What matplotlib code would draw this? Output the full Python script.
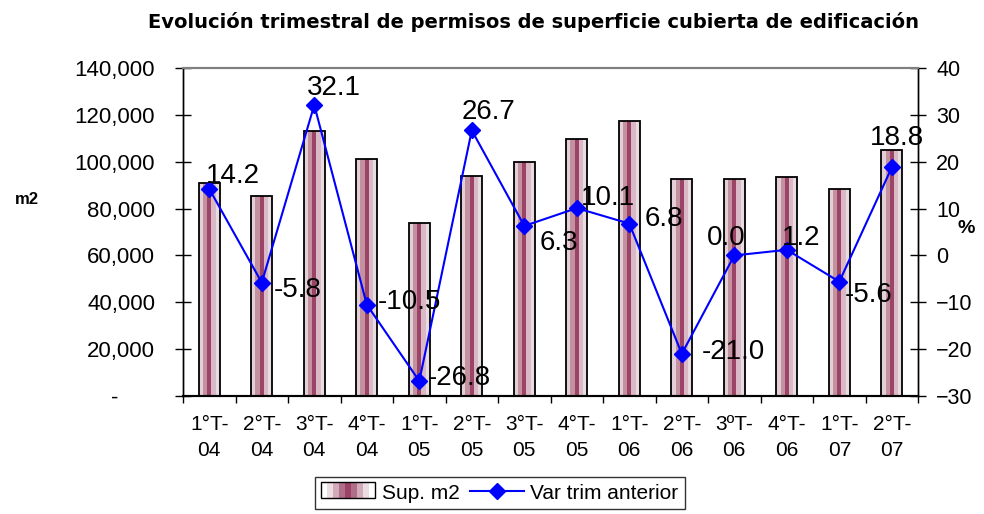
import numpy as np
import matplotlib
matplotlib.use('Agg')
import matplotlib.pyplot as plt
from matplotlib.lines import Line2D
from matplotlib.patches import Patch, Rectangle
from matplotlib.legend_handler import HandlerBase
from matplotlib.ticker import FuncFormatter

trimestres = ['1°T-\n04', '2°T-\n04', '3°T-\n04', '4°T-\n04', '1°T-\n05', '2°T-\n05', '3°T-\n05',
              '4°T-\n05', '1°T-\n06', '2°T-\n06', '3ºT-\n06', '4°T-\n06', '1°T-\n07', '2°T-\n07']
sup_m2 = [90800, 85500, 113000, 101100, 74000, 93800, 99700,
          109800, 117200, 92600, 92600, 93700, 88500, 105200]
var_trim = [14.2, -5.8, 32.1, -10.5, -26.8, 26.7, 6.3, 10.1, 6.8, -21.0, 0.0, 1.2, -5.6, 18.8]

# label offsets (pixels, label centre relative to the point)
lbl_off = [(-3, 13), (12, -7), (-7, 17), (11, 3), (8, 3), (-10, 18), (15, -17), (4, 10),
           (15, 5), (20, 2), (-27, 17), (-5, 12), (5, -13), (-22, 29)]

plt.rcParams['font.family'] = ['Liberation Sans', 'DejaVu Sans']

stripe_cols = ['#e2cfd7', '#c4929f', '#9c4468', '#d9b9c5', '#e8dbe1']


class StripeHandler(HandlerBase):
    def create_artists(self, legend, orig, xd, yd, width, height, fontsize, trans):
        cols = ['#ffffff', '#ecdde3', '#d2aab9', '#b06f88', '#9c4468', '#b06f88',
                '#d2aab9', '#ecdde3', '#ffffff']
        n = len(cols)
        arts = []
        for i, c in enumerate(cols):
            arts.append(Rectangle((xd + width * i / n, yd), width / n, height,
                                  facecolor=c, edgecolor='none', transform=trans))
        arts.append(Rectangle((xd, yd), width, height, facecolor='none',
                              edgecolor='black', linewidth=1, transform=trans))
        return arts


fig = plt.figure(figsize=(9.84, 5.14), dpi=100)
ax = fig.add_axes([0.186, 0.2296, 0.747, 0.638])
ax2 = ax.twinx()

x = np.arange(len(trimestres))
w = 0.4
for k, c in enumerate(stripe_cols):
    ax.bar(x + (-0.5 + (k + 0.5) / len(stripe_cols)) * w, sup_m2, width=w / len(stripe_cols),
           color=c, linewidth=0, zorder=2)
ax.bar(x, sup_m2, width=w, facecolor='none', edgecolor='black', linewidth=1.3, zorder=3)

ax.set_xlim(-0.5, len(trimestres) - 0.5)
ax.set_ylim(0, 140000)
ax.set_yticks(np.arange(0, 140001, 20000))
ax.yaxis.set_major_formatter(FuncFormatter(lambda v, p: '-      ' if v == 0 else f'{int(v):,}'))
ax.set_xticks(x)
ax.set_xticklabels(trimestres, fontsize=15, linespacing=1.45)
ax.set_xticks(np.arange(-0.5, len(trimestres)), minor=True)
ax.tick_params(axis='x', which='major', length=0, pad=14)
ax.tick_params(axis='x', which='minor', direction='out', length=5, width=1)
ax.tick_params(axis='y', direction='inout', length=12, width=1, labelsize=16, pad=14)
ax.set_ylabel('m2', fontsize=12, fontweight='bold', rotation=0, va='center', ha='center')
ax.yaxis.set_label_coords(-0.213, 0.598)

ax2.plot(x, var_trim, color='#0000ff', linewidth=1.5, marker='D', markersize=8, zorder=4)
ax2.set_ylim(-30, 40)
ax2.set_yticks(np.arange(-30, 41, 10))
ax2.tick_params(axis='y', direction='inout', length=12, width=1, labelsize=15.5, pad=7)
ax2.set_ylabel('%', fontsize=14, fontweight='bold', rotation=0, va='center', ha='center')
ax2.yaxis.set_label_coords(1.066, 0.512)
for xi, v, off in zip(x, var_trim, lbl_off):
    ax2.annotate(f'{v:.1f}', (xi, v), xytext=off, textcoords='offset pixels',
                 fontsize=20, ha='left', va='center', zorder=5)

for a in (ax, ax2):
    a.spines['top'].set_color('#808080')
    a.spines['top'].set_linewidth(1.5)
    a.spines['left'].set_linewidth(1)
    a.spines['right'].set_linewidth(1)
    a.spines['bottom'].set_linewidth(1.5)

fig.text(0.542, 0.957, 'Evolución trimestral de permisos de superficie cubierta de edificación',
         ha='center', va='center', fontsize=14, fontweight='bold', family='DejaVu Sans')

handles = [Patch(facecolor='#c4929f'),
           Line2D([0], [0], color='#0000ff', linewidth=1.5, marker='D', markersize=8)]
fig.legend(handles, ['Sup. m2', 'Var trim anterior'], loc='center', bbox_to_anchor=(0.508, 0.041),
           ncol=2, frameon=True, fancybox=False, edgecolor='black', fontsize=15,
           handlelength=2.6, handleheight=0.8, handletextpad=0.3, columnspacing=0.5,
           borderpad=0.3, handler_map={Patch: StripeHandler()}).get_frame().set_linewidth(1)

fig.savefig('out.png', dpi=100)
